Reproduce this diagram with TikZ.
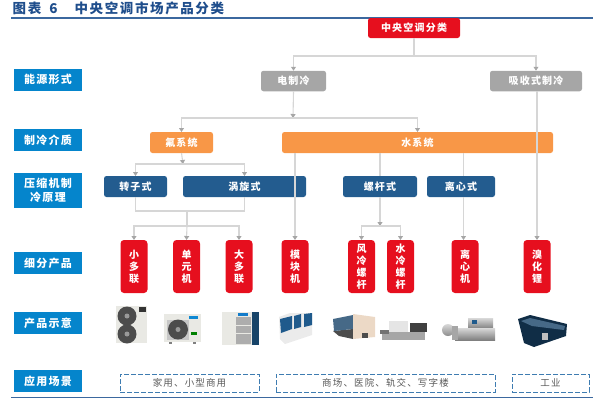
\documentclass[tikz,border=0pt]{standalone}
\usepackage{fontspec}
\newfontfamily\zhfont[LetterSpace=12]{Noto Sans CJK SC}
\newfontfamily\zhtitle[LetterSpace=12]{Noto Sans CJK SC}
\usetikzlibrary{arrows.meta}
\definecolor{navyrule}{HTML}{3B689F}
\definecolor{titleblue}{HTML}{1F4E8C}
\definecolor{rowblue}{HTML}{0585CC}
\definecolor{redbox}{HTML}{E60F1E}
\definecolor{greybox}{HTML}{A6A6A6}
\definecolor{orangebox}{HTML}{F89747}
\definecolor{bluebox}{HTML}{235C8F}
\definecolor{linkgrey}{HTML}{D6D6D6}
\definecolor{dashblue}{HTML}{3E7CB1}
\definecolor{panelblue}{HTML}{1F5A8C}
\definecolor{bodywhite}{HTML}{E9E9E4}

\begin{document}
\begin{tikzpicture}[x=1pt,y=-1pt,
				box/.style={inner sep=0pt,outer sep=0pt,rounded corners=2.5pt,align=center,text=white,font={\zhfont\bfseries\fontsize{10}{12}\selectfont}},
				rowlabel/.style={box,rounded corners=0pt,fill=rowblue,minimum width=68pt,font={\zhfont\bfseries\fontsize{11}{14}\selectfont}},
				rootbox/.style={box,fill=redbox,minimum width=92pt,minimum height=20pt},
				productbox/.style={box,fill=redbox,minimum width=27pt,minimum height=53pt,rounded corners=3.5pt,execute at begin node={\rule{0pt}{12pt}}},
				energybox/.style={box,fill=greybox,minimum height=20.5pt},
				mediumbox/.style={box,fill=orangebox,minimum height=21pt},
				typebox/.style={box,fill=bluebox,minimum height=21pt},
				scenebox/.style={draw=dashblue,line width=1pt,dash pattern=on 5pt off 2pt,inner sep=0pt,minimum height=18pt,text=black!65,font={\zhfont\fontsize{9.5}{12}\selectfont}},
				link/.style={draw=linkgrey,line width=1.1pt},
				tip/.style={link,-{Triangle[color=greybox,fill=greybox,length=4pt,width=5pt]}}
				]
	\useasboundingbox (0,0) rectangle (600,400);

	% heading
	\node[anchor=west,inner sep=0pt,text=titleblue,font={\zhtitle\bfseries\fontsize{13.5}{15}\selectfont}] (heading) at (12.5,8) {图表\hspace{8pt}6\hspace{17pt}中央空调市场产品分类};
	\coordinate (topa) at (11,18);
	\coordinate (topb) at (592.5,18);
	\coordinate (bota) at (11,397.5);
	\coordinate (botb) at (592.5,397.5);
	\draw[navyrule,line width=1.5pt] (topa) -- (topb);
	\draw[navyrule,line width=1.5pt] (bota) -- (botb);

	% row labels
	\node[rowlabel,minimum height=22pt] (r1) at (48,79.5) {能源形式};
	\node[rowlabel,minimum height=22pt] (r2) at (48,140) {制冷介质};
	\node[rowlabel,minimum height=35pt] (r3) at (48,190.5) {压缩机制\\冷原理};
	\node[rowlabel,minimum height=22pt] (r4) at (48,263) {细分产品};
	\node[rowlabel,minimum height=22pt] (r5) at (48,323) {产品示意};
	\node[rowlabel,minimum height=22pt] (r6) at (48,381) {应用场景};

	% boxes
	\node[rootbox] (root) at (414,28) {中央空调分类};
	\node[energybox,minimum width=65pt] (elec) at (293.5,81) {电制冷};
	\node[energybox,minimum width=92pt] (absorb) at (536,81) {吸收式制冷};
	\node[mediumbox,minimum width=63pt] (fluor) at (181.5,142.5) {氟系统};
	\node[mediumbox,minimum width=271pt] (water) at (417.5,142.5) {水系统};
	\node[typebox,minimum width=63pt] (rotor) at (135.5,186.5) {转子式};
	\node[typebox,minimum width=123pt] (scroll) at (244.5,186.5) {涡旋式};
	\node[typebox,minimum width=74pt] (screw) at (380,186.5) {螺杆式};
	\node[typebox,minimum width=68pt] (centri) at (461,186.5) {离心式};
	\node[productbox] (p1) at (134,266.5) {小\\多\\联};
	\node[productbox] (p2) at (186.5,266.5) {单\\元\\机};
	\node[productbox] (p3) at (239,266.5) {大\\多\\联};
	\node[productbox] (p4) at (295,266.5) {模\\块\\机};
	\node[productbox] (p5) at (361.5,266.5) {风\\冷\\螺\\杆};
	\node[productbox] (p6) at (400.5,266.5) {水\\冷\\螺\\杆};
	\node[productbox] (p7) at (465,266.5) {离\\心\\机};
	\node[productbox] (p8) at (537,266.5) {溴\\化\\锂};
	\node[scenebox,minimum width=139pt] (s1) at (189.5,383) {家用、小型商用};
	\node[scenebox,minimum width=219pt] (s2) at (385.5,383) {商场、医院、轨交、写字楼};
	\node[scenebox,minimum width=77pt] (s3) at (550.5,383) {工业};

	% bus points
	\coordinate (rootbus) at (414,56);
	\coordinate (elecbus) at (293,118);
	\coordinate (fluorbus) at (183,164);
	\coordinate (joinbus) at (187,211);
	\coordinate (multibus) at (187,226);
	\coordinate (screwbus) at (380,226);
	\coordinate (centritop) at (463.5,153);
	\coordinate (centrimid) at (463.5,176);
	\coordinate (centrilow) at (463.5,197);
	\coordinate (centriend) at (463.5,240);

	\draw[link] (root.south) -- (rootbus);
	\draw[tip] (rootbus) -| (elec.north);
	\draw[tip] (rootbus) -| (absorb.north);
	\draw[tip] (elec.south) -- (elecbus);
	\draw[tip] (elecbus) -| (fluor.north);
	\draw[tip] (elecbus) -| (water.north);
	\draw[tip] (fluor.south) -- (fluorbus);
	\draw[tip] (fluorbus) -| (rotor.north);
	\draw[tip] (fluorbus) -| (scroll.north);
	\draw[link] (rotor.south) |- (joinbus);
	\draw[link] (scroll.south) |- (joinbus);
	\draw[link] (joinbus) -- (multibus);
	\draw[tip] (multibus) -| (p1.north);
	\draw[tip] (multibus) -- (p2.north);
	\draw[tip] (multibus) -| (p3.north);
	\draw[tip] (water.south -| p4.north) -- (p4.north);
	\draw[link] (water.south -| screw.north) -- (screw.north);
	\draw[tip] (screw.south) -- (screwbus);
	\draw[tip] (screwbus) -| (p5.north);
	\draw[tip] (screwbus) -| (p6.north);
	\draw[link] (centritop) -- (centrimid);
	\draw[tip] (centrilow) -- (centriend);
	\draw[tip] (absorb.south -| p8.north) -- (p8.north);

	% small outdoor unit
	\fill[bodywhite] (116,306) rectangle (147,343);
	\foreach \y in {316,334}{
		\fill[black!70] (127,\y) circle (9.5);
		\fill[black!40] (127,\y) circle (2.5);
	}
	\fill[black!80] (139,307) rectangle (146,312);
	% split unit
	\fill[bodywhite] (164,314) rectangle (201,342);
	\fill[black!22] (167,320) rectangle (189,340);
	\fill[black!70] (178,329.5) circle (10);
	\fill[black!40] (178,329.5) circle (2.5);
	\fill[cyan!70!blue] (189,316) rectangle (198,319);
	\fill[green!50!black] (191,332) rectangle (197,335);
	\fill[black!50] (169,342) rectangle (172,344);
	\fill[black!50] (193,342) rectangle (196,344);
	% large multi unit
	\fill[bodywhite] (222,312) rectangle (252,345);
	\fill[black!32] (236,317) rectangle (251,344);
	\foreach \y in {325,333}{
		\fill[bodywhite] (236,\y) rectangle (251,\y+1);
	}
	\fill[panelblue!75!black] (252,312) rectangle (259,345);
	\fill[cyan!60!blue] (238,313) rectangle (248,316);
	% module unit
	\fill[black!8] (279,317) -- (290,313) -- (312,313) -- (312,335) -- (285,344) -- (280,339) -- cycle;
	\fill[panelblue] (280,319) -- (292,316) -- (292,329) -- (281,333) -- cycle;
	\fill[panelblue] (294,316) -- (301,314) -- (301,327) -- (294,329) -- cycle;
	\fill[panelblue] (304,314) -- (312,313) -- (312,325) -- (304,327) -- cycle;
	% air cooled screw
	\fill[black!70] (333,331) -- (353,329) -- (353,339) -- (339,336) -- cycle;
	\fill[panelblue!60!gray] (333,319) -- (353,315) -- (353,329) -- (334,331) -- cycle;
	\fill[brown!30!white] (353,314) -- (375,317) -- (375,337) -- (353,339) -- cycle;
	\fill[black!70] (362,333) rectangle (368,338);
	% water cooled screw
	\fill[black!35] (382,332) rectangle (425,340);
	\fill[black!10] (389,321) rectangle (408,332);
	\fill[black!75] (410,323) rectangle (427,332);
	\fill[black!55] (380,330) rectangle (389,334);
	% centrifugal
	\shade[top color=black!15,bottom color=black!50] (455,328) rectangle (495,340);
	\shade[top color=black!15,bottom color=black!45] (448,330) circle (6);
	\fill[black!35] (452,326) rectangle (458,340);
	\shade[top color=black!15,bottom color=black!45] (468,318) rectangle (493,327);
	\fill[panelblue] (472,320) rectangle (477,324);
	% absorption
	\fill[panelblue!50!black] (518,319) -- (530,315) -- (567,324) -- (566,336) -- (534,347) -- (524,343) -- cycle;
	\fill[panelblue!60!gray] (521,321) -- (530,318) -- (565,326) -- (564,330) -- (532,326) -- cycle;
	\fill[black!25] (542,333) rectangle (548,340);
\end{tikzpicture}
\end{document}
